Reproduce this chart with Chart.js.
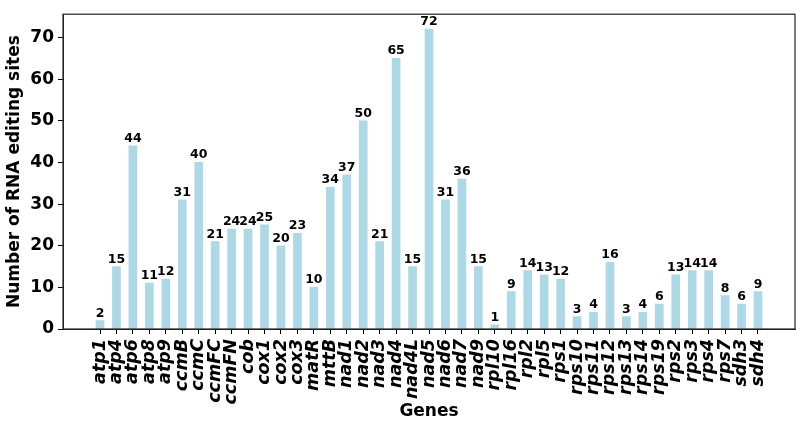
<!DOCTYPE html>
<html>
<head>
<meta charset="utf-8">
<script src="https://cdn.jsdelivr.net/npm/chart.js@4.4.1/dist/chart.umd.min.js"></script>
<style>
  html, body { margin: 0; padding: 0; background: #fff; }
  #wrap { width: 797px; height: 426px; }
</style>
</head>
<body>
<div id="wrap"><canvas id="rnaChart" width="797" height="426"></canvas></div>
<script>
// genes and RNA editing sites per gene
const genes = ["atp1","atp4","atp6","atp8","atp9","ccmB","ccmC","ccmFC","ccmFN","cob",
  "cox1","cox2","cox3","matR","mttB","nad1","nad2","nad3","nad4","nad4L",
  "nad5","nad6","nad7","nad9","rpl10","rpl16","rpl2","rpl5","rps1","rps10",
  "rps11","rps12","rps13","rps14","rps19","rps2","rps3","rps4","rps7","sdh3","sdh4"];
const sites = [2,15,44,11,12,31,40,21,24,24,
  25,20,23,10,34,37,50,21,65,15,
  72,31,36,15,1,9,14,13,12,3,
  4,16,3,4,6,13,14,14,8,6,9];
const yTicks = [0,10,20,30,40,50,60,70];

const FONT = "'DejaVu Sans', sans-serif";

// value above each bar
const barLabels = {
  id: "barLabels",
  afterDatasetsDraw(chart) {
    const ctx = chart.ctx;
    const meta = chart.getDatasetMeta(0);
    ctx.save();
    ctx.font = "bold 12.5px " + FONT;
    ctx.fillStyle = "#000";
    ctx.textAlign = "center";
    ctx.textBaseline = "bottom";
    meta.data.forEach((bar, i) => {
      ctx.fillText(String(sites[i]), bar.x, bar.y - 1);
    });
    ctx.restore();
  }
};

// box round the plot area
const frame = {
  id: "frame",
  afterDraw(chart) {
    const a = chart.chartArea;
    const ctx = chart.ctx;
    ctx.save();
    ctx.strokeStyle = "#222";
    ctx.lineWidth = 1.2;
    ctx.strokeRect(a.left, a.top, a.right - a.left, a.bottom - a.top);
    ctx.restore();
  }
};

new Chart(document.getElementById("rnaChart"), {
  type: "bar",
  data: {
    datasets: [{
      data: sites.map((v, i) => ({ x: i, y: v })),
      backgroundColor: "#add8e6",
      barThickness: 8
    }]
  },
  options: {
    responsive: false,
    animation: false,
    layout: { padding: { top: 5, right: 2, left: 0, bottom: 0 } },
    plugins: { legend: { display: false }, tooltip: { enabled: false } },
    scales: {
      x: {
        type: "linear",
        offset: false,
        min: -2.25,
        max: 42.25,
        afterBuildTicks: (s) => { s.ticks = genes.map((g, i) => ({ value: i })); },
        afterFit: (s) => { s.height = 97; },
        grid: { offset: false, drawOnChartArea: false, drawTicks: true, tickLength: 5, tickColor: "#000" },
        border: { display: true, color: "#222" },
        ticks: {
          autoSkip: false,
          minRotation: 90,
          maxRotation: 90,
          padding: 5,
          color: "#000",
          font: { family: FONT, size: 17.5, weight: "bold", style: "italic" },
          callback: (v) => genes[v]
        },
        title: {
          display: true,
          text: "Genes",
          color: "#000",
          font: { family: FONT, size: 17, weight: "bold" },
          padding: { top: 0, bottom: 4 }
        }
      },
      y: {
        min: 0,
        max: 75.6,
        afterBuildTicks: (s) => { s.ticks = yTicks.map(v => ({ value: v })); },
        afterFit: (s) => { s.width = 63; },
        grid: { drawOnChartArea: false, drawTicks: true, tickLength: 5, tickColor: "#000" },
        border: { display: true, color: "#222" },
        ticks: {
          padding: 4,
          color: "#000",
          font: { family: FONT, size: 17, weight: "bold" }
        },
        title: {
          display: true,
          text: "Number of RNA editing sites",
          color: "#000",
          font: { family: FONT, size: 17, weight: "bold" },
          padding: { top: 4, bottom: 0 }
        }
      }
    }
  },
  plugins: [barLabels, frame]
});
</script>
</body>
</html>
